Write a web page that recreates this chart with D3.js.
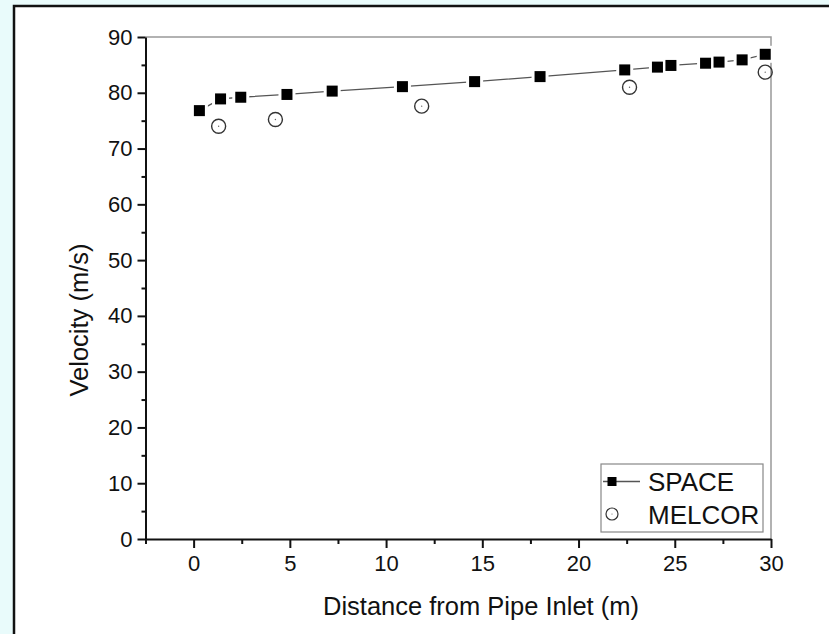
<!DOCTYPE html>
<html>
<head>
<meta charset="utf-8">
<script src="https://cdn.jsdelivr.net/npm/d3@7"></script>
<style>
  html, body { margin: 0; padding: 0; background: #e9fbfb; }
  svg { display: block; font-family: "Liberation Sans", Arial, sans-serif; }
</style>
</head>
<body>
<div id="chart-area"></div>
<script>
// SPACE results (filled squares, joined by a line)
const spaceX = [0.3, 1.4, 2.45, 4.85, 7.2, 10.85, 14.6, 18.0, 22.4, 24.1, 24.8, 26.6, 27.3, 28.5, 29.7]
const spaceV = [76.8, 78.9, 79.2, 79.7, 80.3, 81.1, 82.0, 82.9, 84.1, 84.6, 84.9, 85.3, 85.5, 85.9, 86.9]
// MELCOR results (open circles)
const melcorX = [1.3, 4.25, 11.85, 22.65, 29.7]
const melcorV = [74.0, 75.2, 77.6, 81.0, 83.7]

const xTicks = [0, 5, 10, 15, 20, 25, 30]
const xMinor = [-2.5, 2.5, 7.5, 12.5, 17.5, 22.5, 27.5]
const yTicks = [0, 10, 20, 30, 40, 50, 60, 70, 80, 90]
const yMinor = [5, 15, 25, 35, 45, 55, 65, 75, 85]

const W = 829, H = 634
const PLOT = {LEFT: 145.5, RIGHT: 771, TOP: 37, BOTTOM: 539}

const svg = d3.select("#chart-area").append("svg")
    .attr("width", W)
    .attr("height", H)

// white panel with black frame
svg.append("rect")
    .attr("x", 14).attr("y", 6)
    .attr("width", 840).attr("height", 650)
    .attr("fill", "white")
    .attr("stroke", "#111")
    .attr("stroke-width", 2.5)

const x = d3.scaleLinear().domain([-2.5, 30]).range([PLOT.LEFT, PLOT.RIGHT])
const y = d3.scaleLinear().domain([0, 90]).range([PLOT.BOTTOM, PLOT.TOP])

// top / right frame lines
svg.append("path")
    .attr("d", `M${PLOT.LEFT},${PLOT.TOP}H${PLOT.RIGHT}V${PLOT.BOTTOM}`)
    .attr("fill", "none")
    .attr("stroke", "#999")
    .attr("stroke-width", 1.5)

// axes
svg.append("g")
    .attr("transform", `translate(0, ${PLOT.BOTTOM})`)
    .call(d3.axisBottom(x).tickValues(xTicks).tickSize(9).tickSizeOuter(0).tickPadding(7))
svg.append("g")
    .attr("transform", `translate(0, ${PLOT.BOTTOM})`)
    .call(d3.axisBottom(x).tickValues(xMinor).tickSize(5).tickFormat(""))
    .select(".domain").remove()

svg.append("g")
    .attr("transform", `translate(${PLOT.LEFT}, 0)`)
    .call(d3.axisLeft(y).tickValues(yTicks).tickSize(8).tickSizeOuter(0).tickPadding(5))
svg.append("g")
    .attr("transform", `translate(${PLOT.LEFT}, 0)`)
    .call(d3.axisLeft(y).tickValues(yMinor).tickSize(4).tickFormat(""))
    .select(".domain").remove()

svg.selectAll(".domain").attr("stroke", "#111").attr("stroke-width", 2)
svg.selectAll(".tick line").attr("stroke", "#111").attr("stroke-width", 2)
svg.selectAll(".tick text")
    .attr("font-size", "22px")
    .attr("font-family", "'Liberation Sans', Arial, sans-serif")
    .attr("fill", "#111")

// axis titles
svg.append("text")
    .attr("x", 481)
    .attr("y", 615)
    .attr("font-size", "25.5px")
    .attr("text-anchor", "middle")
    .attr("fill", "#111")
    .text("Distance from Pipe Inlet (m)")

svg.append("text")
    .attr("transform", "translate(88, 320) rotate(-90)")
    .attr("font-size", "25.5px")
    .attr("text-anchor", "middle")
    .attr("fill", "#111")
    .text("Velocity (m/s)")

const plot = svg.append("g")
const space = spaceX.map((d, i) => ({x: d, v: spaceV[i]}))
const melcor = melcorX.map((d, i) => ({x: d, v: melcorV[i]}))

// SPACE line
plot.append("path")
    .datum(space)
    .attr("fill", "none")
    .attr("stroke", "#555")
    .attr("stroke-width", 1.3)
    .attr("d", d3.line().x(d => x(d.x)).y(d => y(d.v)))

// gap around symbols
plot.selectAll("rect.halo").data(space).enter().append("rect")
    .attr("class", "halo")
    .attr("x", d => x(d.x) - 8.5)
    .attr("y", d => y(d.v) - 8.5)
    .attr("width", 17).attr("height", 17)
    .attr("fill", "white")

plot.selectAll("rect.sq").data(space).enter().append("rect")
    .attr("class", "sq")
    .attr("x", d => x(d.x) - 5.5)
    .attr("y", d => y(d.v) - 5.5)
    .attr("width", 11).attr("height", 11)
    .attr("fill", "#000")

plot.selectAll("circle.mc").data(melcor).enter().append("circle")
    .attr("class", "mc")
    .attr("cx", d => x(d.x))
    .attr("cy", d => y(d.v))
    .attr("r", 7)
    .attr("fill", "none")
    .attr("stroke", "#333")
    .attr("stroke-width", 1.4)
plot.selectAll("circle.dot").data(melcor).enter().append("circle")
    .attr("class", "dot")
    .attr("cx", d => x(d.x))
    .attr("cy", d => y(d.v))
    .attr("r", 0.7)
    .attr("fill", "#666")

// legend
const lg = svg.append("g")
lg.append("rect")
    .attr("x", 601).attr("y", 464)
    .attr("width", 162).attr("height", 68)
    .attr("fill", "white")
    .attr("stroke", "#888")
    .attr("stroke-width", 1.2)
lg.append("line")
    .attr("x1", 603).attr("x2", 640)
    .attr("y1", 481.5).attr("y2", 481.5)
    .attr("stroke", "#555").attr("stroke-width", 1.3)
lg.append("rect")
    .attr("x", 607.5).attr("y", 477)
    .attr("width", 9).attr("height", 9)
    .attr("fill", "#000")
lg.append("circle")
    .attr("cx", 612).attr("cy", 514)
    .attr("r", 6)
    .attr("fill", "none").attr("stroke", "#333").attr("stroke-width", 1.2)
lg.append("circle")
    .attr("cx", 612).attr("cy", 514)
    .attr("r", 0.6)
    .attr("fill", "#666")
lg.append("text")
    .attr("x", 648).attr("y", 490.5)
    .attr("font-size", "26px").attr("fill", "#111")
    .text("SPACE")
lg.append("text")
    .attr("x", 648).attr("y", 523.5)
    .attr("font-size", "26px").attr("fill", "#111")
    .text("MELCOR")
</script>
</body>
</html>
